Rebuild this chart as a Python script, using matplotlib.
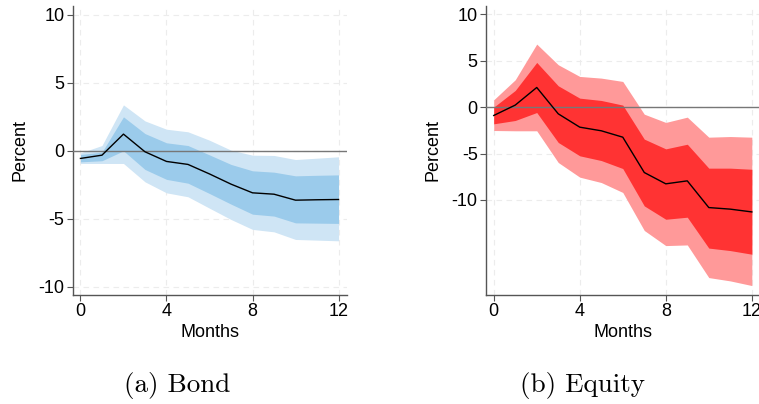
import numpy as np
import matplotlib.pyplot as plt

plt.rcParams['font.family'] = 'Liberation Sans'
plt.rcParams['axes.unicode_minus'] = False

months = list(range(13))

# Bond impulse response (percent)
bond_mid = [-0.56, -0.32, 1.23, -0.07, -0.78, -1.0, -1.7, -2.45, -3.09, -3.19, -3.63, -3.6, -3.58]
bond_in_hi = [-0.27, -0.1, 2.5, 1.27, 0.59, 0.39, -0.3, -1.0, -1.47, -1.57, -1.84, -1.8, -1.77]
bond_in_lo = [-0.81, -0.73, 0.0, -1.37, -2.1, -2.38, -3.14, -3.92, -4.66, -4.8, -5.3, -5.32, -5.34]
bond_out_hi = [-0.15, 0.39, 3.38, 2.2, 1.59, 1.4, 0.78, 0.05, -0.32, -0.34, -0.64, -0.54, -0.44]
bond_out_lo = [-0.93, -0.93, -0.93, -2.28, -3.09, -3.38, -4.22, -5.05, -5.78, -5.96, -6.52, -6.57, -6.62]

# Equity impulse response (percent)
eq_mid = [-0.9, 0.22, 2.12, -0.72, -2.16, -2.55, -3.24, -7.05, -8.27, -7.95, -10.83, -11.0, -11.3]
eq_in_hi = [0.0, 1.8, 4.82, 2.3, 0.97, 0.72, 0.22, -3.45, -4.5, -4.0, -6.58, -6.58, -6.7]
eq_in_lo = [-1.8, -1.44, -0.58, -3.81, -5.25, -5.76, -6.62, -10.65, -12.09, -11.87, -15.2, -15.47, -15.86]
eq_out_hi = [0.79, 2.95, 6.8, 4.57, 3.31, 3.13, 2.77, -0.76, -1.65, -1.08, -3.24, -3.17, -3.24]
eq_out_lo = [-2.52, -2.55, -2.55, -5.97, -7.55, -8.13, -9.2, -13.3, -14.93, -14.86, -18.38, -18.74, -19.24]

fig = plt.figure(figsize=(7.59, 4.04), dpi=100)
ax1 = fig.add_axes([0.0958, 0.27, 0.361, 0.715])
ax2 = fig.add_axes([0.6403, 0.27, 0.361, 0.715])

panels = [
    (ax1, bond_mid, bond_in_lo, bond_in_hi, bond_out_lo, bond_out_hi, '#cfe5f5', '#9bcbeb', (-10.6, 10.65)),
    (ax2, eq_mid, eq_in_lo, eq_in_hi, eq_out_lo, eq_out_hi, '#ff9999', '#ff3333', (-20.25, 10.9)),
]

for ax, mid, ilo, ihi, olo, ohi, light, dark, ylim in panels:
    ax.fill_between(months, olo, ohi, color=light, lw=0, zorder=2)
    ax.fill_between(months, ilo, ihi, color=dark, lw=0, zorder=3)
    ax.axhline(0, color='#777777', lw=1.0, zorder=4)
    ax.plot(months, mid, color='black', lw=1.0, zorder=5)
    ax.set_xlim(-0.36, 12.38)
    ax.set_ylim(*ylim)
    ax.set_xticks([0, 4, 8, 12])
    ax.set_yticks([10, 5, 0, -5, -10])
    ax.grid(True, ls=(0, (5, 4)), color='#ececec', lw=0.8, zorder=1)
    for s in ['top', 'right']:
        ax.spines[s].set_visible(False)
    for s in ['left', 'bottom']:
        ax.spines[s].set_color('#555555')
        ax.spines[s].set_linewidth(1.0)
    ax.tick_params(length=4, width=0.8, color='#555555', labelsize=13, pad=2)
    ax.set_xlabel('Months', fontsize=13, labelpad=3)
    ax.set_ylabel('Percent', fontsize=13, labelpad=7)

fig.text(0.233, 0.047, '(a) Bond', fontsize=19.5, family='cmr10', ha='center', va='center')
fig.text(0.768, 0.047, '(b) Equity', fontsize=19.5, family='cmr10', ha='center', va='center')

fig.savefig('out.png', dpi=100)
